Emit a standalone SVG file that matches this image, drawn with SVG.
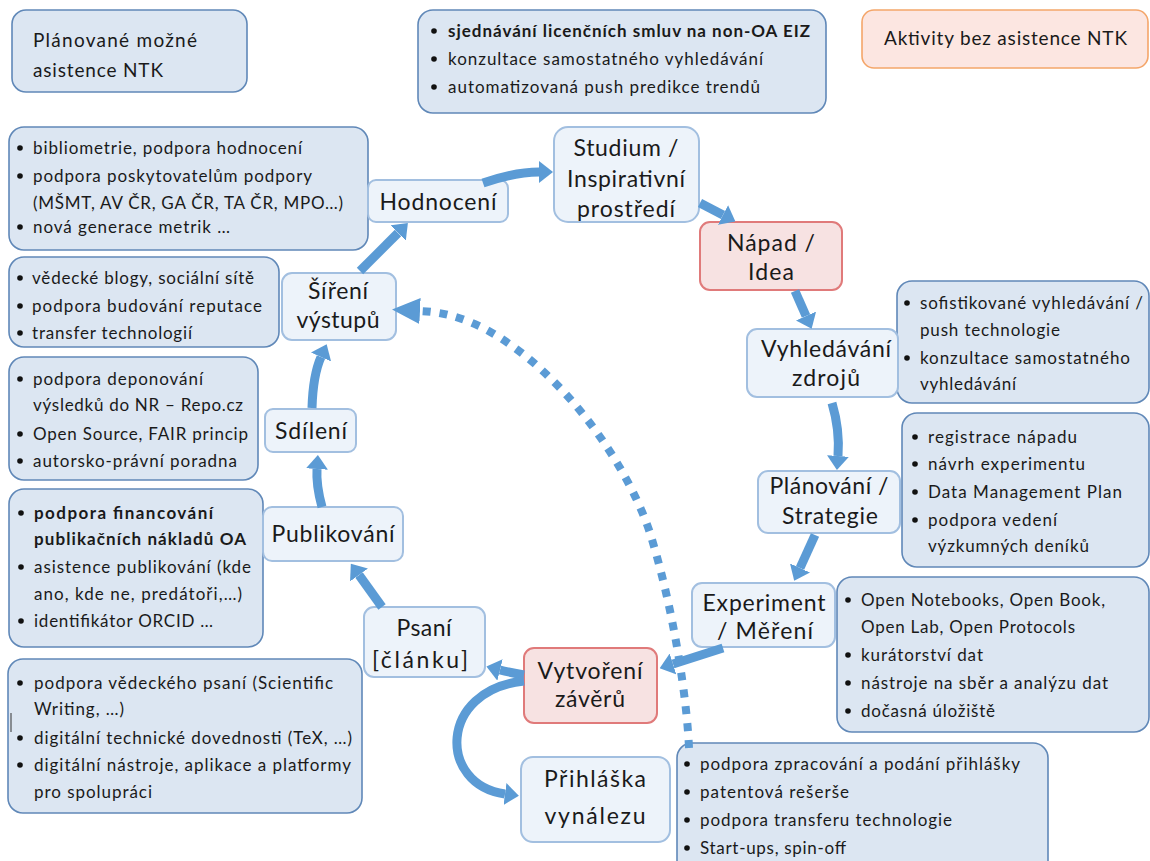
<svg xmlns="http://www.w3.org/2000/svg" width="1150" height="861" viewBox="0 0 1150 861">
<defs>
<style>
.lb{fill:#dce6f2;stroke:#6088b8;stroke-width:1.6}
.nd{fill:#edf3fa;stroke:#a2bfe0;stroke-width:2}
.pk{fill:#f7e2e2;stroke:#e07a7a;stroke-width:2}
.or{fill:#fce6e1;stroke:#f4a66a;stroke-width:1.6}
text{font-family:Lato,"Liberation Sans",sans-serif;fill:#1a1a1a}
.t{font-size:17px}
.b{font-weight:bold}
.n{font-size:23px;text-anchor:middle}
.lg{font-size:19px}
.dot{fill:#111}
.ar{fill:none;stroke:#5b9bd5;stroke-width:9}
.dt{fill:none;stroke:#5b9bd5;stroke-width:8;stroke-dasharray:8 9}
</style>
<marker id="ah" viewBox="0 0 14 22" refX="0" refY="11" markerWidth="14" markerHeight="22" markerUnits="userSpaceOnUse" orient="auto"><path d="M0 0L14 11L0 22Z" fill="#5b9bd5"/></marker>
<marker id="ahd" viewBox="0 0 28 26" refX="0" refY="13" markerWidth="28" markerHeight="26" markerUnits="userSpaceOnUse" orient="auto"><path d="M0 0L28 13L0 26Z" fill="#5b9bd5"/></marker>
</defs>
<rect width="1150" height="861" fill="#fff"/>

<g id="legend-planned">
<rect class="lb" x="12" y="10" width="235" height="82" rx="14"/>
<text class="lg" x="33" y="47" textLength="164">Plánované možné</text>
<text class="lg" x="33" y="77" textLength="130">asistence NTK</text>
</g>
<g id="legend-activities">
<rect class="or" x="862" y="10" width="286" height="58" rx="12"/>
<text class="lg" x="884" y="45" textLength="243">Aktivity bez asistence NTK</text>
</g>

<g id="list-top">
<rect class="lb" x="418" y="10" width="408" height="103" rx="15"/>
<circle class="dot" cx="434" cy="31" r="2.8"/><text class="t b" x="448" y="37" textLength="362">sjednávání licenčních smluv na non-OA EIZ</text>
<circle class="dot" cx="434" cy="59" r="2.8"/><text class="t" x="448" y="65" textLength="315">konzultace samostatného vyhledávání</text>
<circle class="dot" cx="434" cy="87" r="2.8"/><text class="t" x="448" y="93" textLength="312">automatizovaná push predikce trendů</text>
</g>

<g id="list-hodnoceni">
<rect class="lb" x="9" y="127" width="359" height="123" rx="15"/>
<circle class="dot" cx="20" cy="148" r="2.8"/><text class="t" x="33" y="154" textLength="269">bibliometrie, podpora hodnocení</text>
<circle class="dot" cx="20" cy="176" r="2.8"/><text class="t" x="33" y="182" textLength="279">podpora poskytovatelům podpory</text>
<text class="t" x="33" y="209" textLength="310">(MŠMT, AV ČR, GA ČR, TA ČR, MPO…)</text>
<circle class="dot" cx="20" cy="227" r="2.8"/><text class="t" x="33" y="233" textLength="197">nová generace metrik …</text>
</g>

<g id="list-sireni">
<rect class="lb" x="9" y="257" width="270" height="90" rx="15"/>
<circle class="dot" cx="20" cy="278" r="2.8"/><text class="t" x="32" y="284" textLength="222">vědecké blogy, sociální sítě</text>
<circle class="dot" cx="20" cy="306" r="2.8"/><text class="t" x="32" y="312" textLength="230">podpora budování reputace</text>
<circle class="dot" cx="20" cy="333" r="2.8"/><text class="t" x="32" y="339" textLength="160">transfer technologií</text>
</g>

<g id="list-sdileni">
<rect class="lb" x="9" y="357" width="249" height="123" rx="15"/>
<circle class="dot" cx="20" cy="379" r="2.8"/><text class="t" x="33" y="385" textLength="170">podpora deponování</text>
<text class="t" x="33" y="411" textLength="210">výsledků do NR – Repo.cz</text>
<circle class="dot" cx="20" cy="434" r="2.8"/><text class="t" x="33" y="440" textLength="215">Open Source, FAIR princip</text>
<circle class="dot" cx="20" cy="461" r="2.8"/><text class="t" x="33" y="467" textLength="204">autorsko-právní poradna</text>
</g>

<g id="list-publikovani">
<rect class="lb" x="9" y="489" width="254" height="158" rx="15"/>
<circle class="dot" cx="21" cy="513" r="2.8"/><text class="t b" x="34" y="519" textLength="179">podpora financování</text>
<text class="t b" x="34" y="545" textLength="212">publikačních nákladů OA</text>
<circle class="dot" cx="21" cy="567" r="2.8"/><text class="t" x="34" y="573" textLength="217">asistence publikování (kde</text>
<text class="t" x="34" y="600" textLength="208">ano, kde ne, predátoři,…)</text>
<circle class="dot" cx="21" cy="621" r="2.8"/><text class="t" x="34" y="627" textLength="179">identifikátor ORCID …</text>
</g>

<g id="list-psani">
<rect class="lb" x="8" y="659" width="354" height="154" rx="15"/>
<circle class="dot" cx="20" cy="683" r="2.8"/><text class="t" x="34" y="689" textLength="299">podpora vědeckého psaní (Scientific</text>
<text class="t" x="34" y="715" textLength="90">Writing, …)</text>
<circle class="dot" cx="20" cy="738" r="2.8"/><text class="t" x="34" y="744" textLength="318">digitální technické dovednosti  (TeX, …)</text>
<circle class="dot" cx="20" cy="765" r="2.8"/><text class="t" x="34" y="771" textLength="317">digitální nástroje, aplikace a platformy</text>
<text class="t" x="34" y="798" textLength="118">pro spolupráci</text>
<line x1="11" y1="713" x2="11" y2="732" stroke="#333" stroke-width="1"/>
</g>

<g id="list-vyhledavani">
<rect class="lb" x="897" y="281" width="252" height="122" rx="15"/>
<circle class="dot" cx="907" cy="303" r="2.8"/><text class="t" x="920" y="309" textLength="223">sofistikované vyhledávání /</text>
<text class="t" x="920" y="336" textLength="140">push technologie</text>
<circle class="dot" cx="907" cy="358" r="2.8"/><text class="t" x="920" y="364" textLength="210">konzultace samostatného</text>
<text class="t" x="920" y="390" textLength="96">vyhledávání</text>
</g>

<g id="list-planovani">
<rect class="lb" x="902" y="413" width="247" height="154" rx="15"/>
<circle class="dot" cx="915" cy="437" r="2.8"/><text class="t" x="928" y="443" textLength="149">registrace nápadu</text>
<circle class="dot" cx="915" cy="464" r="2.8"/><text class="t" x="928" y="470" textLength="157">návrh experimentu</text>
<circle class="dot" cx="915" cy="492" r="2.8"/><text class="t" x="928" y="498" textLength="194">Data Management Plan</text>
<circle class="dot" cx="915" cy="520" r="2.8"/><text class="t" x="928" y="526" textLength="129">podpora vedení</text>
<text class="t" x="928" y="552" textLength="161">výzkumných deníků</text>
</g>

<g id="list-experiment">
<rect class="lb" x="837" y="577" width="312" height="155" rx="15"/>
<circle class="dot" cx="848" cy="600" r="2.8"/><text class="t" x="861" y="606" textLength="244">Open Notebooks,  Open Book,</text>
<text class="t" x="861" y="633" textLength="214">Open Lab, Open Protocols</text>
<circle class="dot" cx="848" cy="655" r="2.8"/><text class="t" x="861" y="661" textLength="122">kurátorství dat</text>
<circle class="dot" cx="848" cy="683" r="2.8"/><text class="t" x="861" y="689" textLength="247">nástroje na sběr a analýzu dat</text>
<circle class="dot" cx="848" cy="711" r="2.8"/><text class="t" x="861" y="717" textLength="134">dočasná úložiště</text>
</g>

<g id="list-prihlaska">
<rect class="lb" x="677" y="743" width="371" height="135" rx="15"/>
<circle class="dot" cx="687" cy="764" r="2.8"/><text class="t" x="700" y="770" textLength="320">podpora zpracování a podání přihlášky</text>
<circle class="dot" cx="687" cy="792" r="2.8"/><text class="t" x="700" y="798" textLength="149">patentová rešerše</text>
<circle class="dot" cx="687" cy="820" r="2.8"/><text class="t" x="700" y="826" textLength="252">podpora transferu technologie</text>
<circle class="dot" cx="687" cy="848" r="2.8"/><text class="t" x="700" y="854" textLength="146">Start-ups, spin-off</text>
</g>

<g id="node-hodnoceni"><rect class="nd" x="368" y="180" width="140" height="42" rx="8"/>
<text class="n" x="438" y="210" textLength="117">Hodnocení</text></g>
<g id="node-studium"><rect class="nd" x="554" y="127" width="145" height="95" rx="14"/>
<text class="n" x="626" y="156" textLength="105">Studium /</text>
<text class="n" x="626" y="187" textLength="118">Inspirativní</text>
<text class="n" x="626" y="217" textLength="98">prostředí</text></g>
<g id="node-napad"><rect class="pk" x="700" y="222" width="142" height="68" rx="10"/>
<text class="n" x="771" y="251" textLength="88">Nápad /</text>
<text class="n" x="771" y="280" textLength="46">Idea</text></g>
<g id="node-vyhledavani"><rect class="nd" x="747" y="329" width="151" height="68" rx="10"/>
<text class="n" x="826" y="357" textLength="130">Vyhledávání</text>
<text class="n" x="826" y="386" textLength="68">zdrojů</text></g>
<g id="node-planovani"><rect class="nd" x="758" y="471" width="142" height="62" rx="10"/>
<text class="n" x="829" y="494" textLength="119">Plánování /</text>
<text class="n" x="830" y="524" textLength="96">Strategie</text></g>
<g id="node-experiment"><rect class="nd" x="692" y="583" width="143" height="64" rx="10"/>
<text class="n" x="764" y="611" textLength="123">Experiment</text>
<text class="n" x="765" y="639" textLength="96">/ Měření</text></g>
<g id="node-vytvoreni"><rect class="pk" x="524" y="648" width="133" height="75" rx="10"/>
<text class="n" x="590" y="679" textLength="105">Vytvoření</text>
<text class="n" x="590" y="707" textLength="70">závěrů</text></g>
<g id="node-prihlaska"><rect class="nd" x="521" y="757" width="149" height="85" rx="12"/>
<text class="n" x="595" y="787" textLength="102">Přihláška</text>
<text class="n" x="595" y="824" textLength="101">vynálezu</text></g>
<g id="node-psani"><rect class="nd" x="364" y="607" width="121" height="70" rx="10"/>
<text class="n" x="424" y="636" textLength="55">Psaní</text>
<text class="n" x="420" y="668" textLength="96">[článku]</text></g>
<g id="node-publikovani"><rect class="nd" x="263" y="507" width="140" height="54" rx="9"/>
<text class="n" x="333" y="542" textLength="123">Publikování</text></g>
<g id="node-sdileni"><rect class="nd" x="265" y="409" width="91" height="43" rx="8"/>
<text class="n" x="311" y="439" textLength="72">Sdílení</text></g>
<g id="node-sireni"><rect class="nd" x="282" y="273" width="114" height="67" rx="10"/>
<text class="n" x="338" y="299" textLength="60">Šíření</text>
<text class="n" x="338" y="328" textLength="83">výstupů</text></g>

<g id="connectors">
<path class="ar" d="M483 183Q515 172 539 172" marker-end="url(#ah)"/>
<path class="ar" d="M700 203L723 215" marker-end="url(#ah)"/>
<path class="ar" d="M795 291L806 316" marker-end="url(#ah)"/>
<path class="ar" d="M832 403Q840 430 838 456" marker-end="url(#ah)"/>
<path class="ar" d="M815 535L800 568" marker-end="url(#ah)"/>
<path class="ar" d="M723 648Q695 657 673 664" marker-end="url(#ah)"/>
<path class="ar" d="M524 675Q508 672 500 670" marker-end="url(#ah)"/>
<path class="ar" d="M524 681C438 690 438 785 505 794" marker-end="url(#ah)"/>
<path class="ar" d="M382 607L359 575" marker-end="url(#ah)"/>
<path class="ar" d="M322 507Q316 485 317 469" marker-end="url(#ah)"/>
<path class="ar" d="M312 408Q313 375 321 357" marker-end="url(#ah)"/>
<path class="ar" d="M360 271L398 233" marker-end="url(#ah)"/>
<path class="dt" d="M689 748C687 700 674 610 650 533C626 460 560 370 487 330C460 316 440 312 420 311" marker-end="url(#ahd)"/>
</g>
</svg>
